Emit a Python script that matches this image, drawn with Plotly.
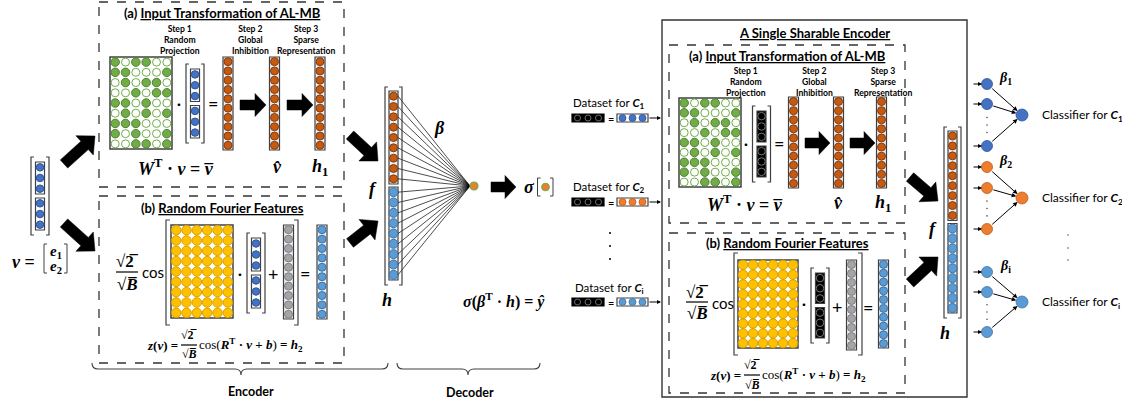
import plotly.graph_objects as go

W, H = 1122, 405

# ---------------- data ----------------
GREEN_PATTERN = ["101100", "110001", "010110", "001011", "110100",
                 "010101", "111000", "101001", "001101"]
FOURIER_ROWS, FOURIER_COLS = 9, 6
STEP_CIRCLES = 10
F_ORANGE, F_BLUE = 9, 9
HALF_INPUT = 3
STEP_LABELS = ["Step 1<br>Random<br>Projection",
               "Step 2<br>Global<br>Inhibition",
               "Step 3<br>Sparse<br>Representation"]
TASK_SUBS = ["1", "2", "i"]
TASK_COLORS = ["#4472C4", "#ED7D31", "#5B9BD5"]
TASK_EDGES = ["#2F5597", "#C55A11", "#41719C"]
IN_YS = [[84, 104, 146], [167, 188, 229], [272, 292, 332]]
OUT_YS = [115, 198, 302]

GREEN, GREEN_E = "#70AD47", "#507E32"
ORANGE, ORANGE_E = "#C55A11", "#843C0C"
BLUE, BLUE_E = "#4472C4", "#2F5597"
LBLUE, LBLUE_E = "#5B9BD5", "#41719C"
YELLOW, YELLOW_E = "#FFC000", "#D6A000"
GRAY, GRAY_E = "#A5A5A5", "#7F7F7F"
DARK = "#404040"
SANS = "Lato"
SERIF = "Liberation Serif"

fig = go.Figure()
shapes, annots = [], []


def circles(xs, ys, fill, edge, size, lw=1.0):
    fig.add_trace(go.Scatter(x=xs, y=ys, mode="markers", hoverinfo="skip", showlegend=False,
                             marker=dict(size=size, color=fill, line=dict(color=edge, width=lw))))


def rect(x0, y0, x1, y1, color=DARK, width=1.2, dash="solid", fill="rgba(0,0,0,0)", layer="below"):
    shapes.append(dict(type="rect", x0=x0, y0=y0, x1=x1, y1=y1, layer=layer,
                       line=dict(color=color, width=width, dash=dash), fillcolor=fill))


def path(d, color=DARK, width=1.2, fill=None, layer="above"):
    s = dict(type="path", path=d, layer=layer, line=dict(color=color, width=width))
    if fill:
        s["fillcolor"] = fill
    shapes.append(s)


def line(x0, y0, x1, y1, width=1.2, color="black"):
    shapes.append(dict(type="line", x0=x0, x1=x1, y0=y0, y1=y1, line=dict(color=color, width=width)))


def text(x, y, s, size, family=SANS, color="black", xanchor="center"):
    annots.append(dict(x=x, y=y, text=s, showarrow=False, xanchor=xanchor, yanchor="middle",
                       font=dict(family=family, size=size, color=color)))


def arrow(x0, y0, x1, y1, width=1.0, standoff=0, startstandoff=0, head=2, hsize=1.0):
    annots.append(dict(x=x1, y=y1, ax=x0, ay=y0, xref="x", yref="y", axref="x", ayref="y",
                       text="", showarrow=True, arrowhead=head, arrowsize=hsize, arrowwidth=width,
                       arrowcolor="black", standoff=standoff, startstandoff=startstandoff))


def block_arrow(x0, y0, x1, y1, sw=10, hw=23, hl=11):
    L = ((x1 - x0) ** 2 + (y1 - y0) ** 2) ** 0.5
    dx, dy = (x1 - x0) / L, (y1 - y0) / L
    nx, ny = -dy, dx
    bx, by = x1 - dx * hl, y1 - dy * hl
    pts = [(x0 + nx * sw / 2, y0 + ny * sw / 2), (bx + nx * sw / 2, by + ny * sw / 2),
           (bx + nx * hw / 2, by + ny * hw / 2), (x1, y1),
           (bx - nx * hw / 2, by - ny * hw / 2), (bx - nx * sw / 2, by - ny * sw / 2),
           (x0 - nx * sw / 2, y0 - ny * sw / 2)]
    d = "M " + " L ".join(f"{px:.1f},{py:.1f}" for px, py in pts) + " Z"
    path(d, color="black", width=0.5, fill="black")


def bracket(x0, x1, y0, y1, serif=3, width=1.2):
    path(f"M {x0+serif},{y0} L {x0},{y0} L {x0},{y1} L {x0+serif},{y1}", width=width)
    path(f"M {x1-serif},{y0} L {x1},{y0} L {x1},{y1} L {x1-serif},{y1}", width=width)


def brace(x0, x1, xt, y, depth=6, tip=6):
    path(f"M {x0},{y-depth} Q {x0},{y} {x0+6},{y} L {xt-6},{y} Q {xt},{y} {xt},{y+tip} "
         f"Q {xt},{y} {xt+6},{y} L {x1-6},{y} Q {x1},{y} {x1},{y-depth}", width=1.1)


def column(cx, y0, y1, n, fill, edge, w=10, d=8):
    rect(cx - w / 2, y0, cx + w / 2, y1, color=DARK, width=1.2, fill="#EAF0FA")
    step = (y1 - y0) / n
    ys = [y0 + step / 2 + k * step for k in range(n)]
    circles([cx] * n, ys, fill, edge, d)
    return ys


def input_vector(cx, y0, y1, fill, edge, boxfill="white"):
    bracket(cx - 9, cx + 9, y0, y1)
    mid = (y0 + y1) / 2
    for a, b in ((y0 + 5, mid - 2), (mid + 2, y1 - 5)):
        rect(cx - 4.5, a, cx + 4.5, b, color=DARK, width=1.2, fill=boxfill)
        h = (b - a) / HALF_INPUT
        circles([cx] * HALF_INPUT, [a + h / 2 + k * h for k in range(HALF_INPUT)], fill, edge, 7.5)


def f_vector(cx, y0, y1):
    bracket(cx - 8.5, cx + 8.5, y0, y1)
    mid = (y0 + y1) / 2
    a1, b1, a2, b2 = y0 + 4, mid - 2, mid + 1, y1 - 5
    rect(cx - 4.5, a1, cx + 4.5, b1, fill="#EAF0FA")
    rect(cx - 4.5, a2, cx + 4.5, b2, fill="#EAF0FA")
    s1, s2 = (b1 - a1) / F_ORANGE, (b2 - a2) / F_BLUE
    ys1 = [a1 + s1 / 2 + k * s1 for k in range(F_ORANGE)]
    ys2 = [a2 + s2 / 2 + k * s2 for k in range(F_BLUE)]
    circles([cx] * F_ORANGE, ys1, ORANGE, ORANGE_E, 8)
    circles([cx] * F_BLUE, ys2, LBLUE, LBLUE_E, 9)
    return ys1 + ys2


def green_matrix(x0, y0, x1, y1):
    rect(x0, y0, x1, y1, color=DARK, width=1.5, fill="white")
    nr, nc = len(GREEN_PATTERN), len(GREEN_PATTERN[0])
    sx, sy = (x1 - x0) / nc, (y1 - y0) / nr
    fx, fy, ox, oy = [], [], [], []
    for r, row in enumerate(GREEN_PATTERN):
        for c, v in enumerate(row):
            px, py = x0 + sx / 2 + c * sx, y0 + sy / 2 + r * sy
            (fx if v == "1" else ox).append(px)
            (fy if v == "1" else oy).append(py)
    circles(fx, fy, GREEN, GREEN_E, 8.5)
    circles(ox, oy, "white", GREEN, 8, lw=1.0)


def yellow_matrix(x0, y0, x1, y1):
    rect(x0, y0, x1, y1, color=DARK, width=1.5, fill="white")
    sx, sy = (x1 - x0) / FOURIER_COLS, (y1 - y0) / FOURIER_ROWS
    xs, ys = [], []
    for r in range(FOURIER_ROWS):
        for c in range(FOURIER_COLS):
            xs.append(x0 + sx / 2 + c * sx)
            ys.append(y0 + sy / 2 + r * sy)
    circles(xs, ys, YELLOW, YELLOW_E, 9.5)


def fraction(cx, ytop, yline, ybot, size, half=11):
    text(cx, ytop, "<b>√2\u0305</b>", size, SERIF)
    line(cx - half, yline, cx + half, yline)
    text(cx, ybot, "<b>√<i>B\u0305</i></b>", size, SERIF)


STEP_FONT = 8.6

# ---------------- left: encoder ----------------
rect(99, 2, 344, 187, color="#333333", width=1.3, dash="dash")
text(222, 13, "<b>(a) <u>Input Transformation of AL-MB</u></b>", 13)
for sx, lab in zip([180, 250, 306], STEP_LABELS):
    text(sx, 40, "<b>" + lab + "</b>", STEP_FONT)
green_matrix(110, 57, 172, 149)
input_vector(195, 64, 143, BLUE, BLUE_E)
text(179, 103, "<b>·</b>", 14)
text(213, 103, "=", 18)
for cx in (228, 274.5, 320):
    column(cx, 57, 150, STEP_CIRCLES, ORANGE, ORANGE_E)
block_arrow(240, 105, 266, 105)
block_arrow(287, 105, 313, 105)
text(176, 167, "<b><i>W</i></b><sup><b>T</b></sup><b> · <i>v</i> = <i>v\u0305</i></b>", 18, SERIF)
text(277, 167, "<b><i>v\u0302</i></b>", 18, SERIF)
text(320, 167, "<b><i>h</i><sub>1</sub></b>", 18, SERIF)

input_vector(40, 157, 235, BLUE, BLUE_E)
text(23, 262, "<b><i>v</i> =</b>", 18, SERIF)
bracket(44, 67, 244, 273, serif=3, width=1.0)
text(55.5, 252, "<b><i>e</i><sub>1</sub></b>", 15, SERIF)
text(55.5, 267, "<b><i>e</i><sub>2</sub></b>", 15, SERIF)
block_arrow(64, 164, 95, 136, sw=11, hw=26, hl=14)
block_arrow(64, 223, 95, 251, sw=11, hw=26, hl=14)

rect(99, 196, 344, 363, color="#333333", width=1.3, dash="dash")
text(222, 208, "<b>(b) <u>Random Fourier Features</u></b>", 13)
fraction(127, 261, 272, 284, 17)
text(153, 272, "cos", 15)
bracket(166, 298, 220, 325, serif=4)
yellow_matrix(171, 225, 233, 318)
text(240, 273, "<b>·</b>", 14)
input_vector(256, 233, 313, BLUE, BLUE_E)
text(273, 274, "+", 18)
column(288.5, 225, 319, STEP_CIRCLES, GRAY, GRAY_E)
text(305, 273, "=", 18)
column(322, 225, 319, STEP_CIRCLES, LBLUE, LBLUE_E)
text(180, 345, "<b><i>z</i>(<i>v</i>) =</b>", 13, SERIF, xanchor="right")
fraction(189, 335, 345, 354, 12, half=8)
text(197, 345, "cos(<b><i>R</i></b><sup><b>T</b></sup><b> · <i>v</i> + <i>b</i></b>) <b>= <i>h</i><sub>2</sub></b>", 13, SERIF, xanchor="left")

brace(92, 388, 241, 369)
text(251, 391, "<b>Encoder</b>", 12.5)

# ---------------- middle: decoder ----------------
block_arrow(350, 135, 378, 161, sw=11, hw=26, hl=14)
block_arrow(350, 243, 378, 221, sw=11, hw=26, hl=14)
fys = f_vector(393.5, 87, 285)
node_x, node_y = 474, 186
lx, ly = [], []
for y in fys:
    lx += [398, node_x - 4, None]
    ly += [y, node_y, None]
fig.add_trace(go.Scatter(x=lx, y=ly, mode="lines", line=dict(color="black", width=0.7),
                         hoverinfo="skip", showlegend=False))
circles([node_x], [node_y], "#ED7D31", GREEN, 8, lw=1.2)
text(373, 189, "<b><i>f</i></b>", 18, SERIF)
text(387, 300, "<b><i>h</i></b>", 18, SERIF)
text(439, 128, "<b><i>β</i></b>", 18, SERIF)
block_arrow(491, 187, 516, 187)
text(529, 187, "<b><i>σ</i></b>", 18, SERIF)
bracket(537.5, 553, 178, 196, serif=3, width=1.0)
circles([545.5], [187], "#ED7D31", GREEN, 7.5, lw=1.2)
text(504, 300, "<b><i>σ</i>(<i>β</i></b><sup><b>T</b></sup><b> · <i>h</i>) = <i>ŷ</i></b>", 16, SERIF)
brace(397, 540, 468, 369)
text(470, 392, "<b>Decoder</b>", 12.5)

# ---------------- right: datasets ----------------
for k, (lab_y, bar_y) in enumerate(zip([103, 187, 288], [118, 202, 302])):
    text(609, lab_y, f"Dataset for <b><i>C</i><sub>{TASK_SUBS[k]}</sub></b>", 11.5, SANS)
    rect(572, bar_y - 4, 604, bar_y + 4, color="black", width=1.2, fill="black")
    rect(617, bar_y - 4, 648, bar_y + 4, color=DARK, width=1.2, fill="white")
    circles([577.5, 588, 598.5], [bar_y] * 3, "black", "#888888", 6, lw=0.8)
    circles([622.5, 632.5, 642.5], [bar_y] * 3, TASK_COLORS[k], TASK_EDGES[k], 7, lw=0.8)
    text(610.5, bar_y, "=", 11)
    arrow(648, bar_y, 661, bar_y, width=1, hsize=0.8)
circles([610, 610, 610], [233, 246, 259], "black", "black", 2, lw=0)

# ---------------- right: single sharable encoder ----------------
rect(662, 20, 967, 397, color="#333333", width=1.4)
text(814, 33, "<b><u>A Single Sharable Encoder</u></b>", 13)
rect(669, 45, 905, 223, color="#333333", width=1.3, dash="dash")
text(787, 56, "<b>(a) <u>Input Transformation of AL-MB</u></b>", 13)
for sx, lab in zip([746, 814, 883], STEP_LABELS):
    text(sx, 82, "<b>" + lab + "</b>", STEP_FONT)
green_matrix(679, 98, 741, 187)
input_vector(761.5, 106, 182, "black", "#777777", boxfill="black")
text(746, 143, "<b>·</b>", 14)
text(779, 143, "=", 18)
for cx in (793.5, 838.5, 881.5):
    column(cx, 97, 188, STEP_CIRCLES, ORANGE, ORANGE_E)
block_arrow(805, 143, 830, 143)
block_arrow(850, 143, 875, 143)
text(745, 203, "<b><i>W</i></b><sup><b>T</b></sup><b> · <i>v</i> = <i>v\u0305</i></b>", 18, SERIF)
text(838, 203, "<b><i>v\u0302</i></b>", 18, SERIF)
text(883, 203, "<b><i>h</i><sub>1</sub></b>", 18, SERIF)

rect(669, 233, 905, 393, color="#333333", width=1.3, dash="dash")
text(787, 243, "<b>(b) <u>Random Fourier Features</u></b>", 13)
fraction(697, 292, 302, 313, 17)
text(723, 303, "cos", 15)
bracket(734, 862, 253, 355, serif=4)
yellow_matrix(738, 260, 798, 348)
text(804, 303, "<b>·</b>", 14)
input_vector(820, 268, 343, "black", "#777777", boxfill="black")
text(837, 307, "+", 18)
column(851.5, 260, 350, STEP_CIRCLES, GRAY, GRAY_E)
text(868, 307, "=", 18)
column(883.5, 260, 348, STEP_CIRCLES, LBLUE, LBLUE_E)
text(743, 375, "<b><i>z</i>(<i>v</i>) =</b>", 13, SERIF, xanchor="right")
fraction(752, 365, 375, 385, 12, half=8)
text(760, 375, "cos(<b><i>R</i></b><sup><b>T</b></sup><b> · <i>v</i> + <i>b</i></b>) <b>= <i>h</i><sub>2</sub></b>", 13, SERIF, xanchor="left")

block_arrow(910, 177, 938, 201, sw=11, hw=26, hl=14)
block_arrow(910, 283, 938, 257, sw=11, hw=26, hl=14)
f_vector(952.5, 127, 318)
text(933, 229, "<b><i>f</i></b>", 18, SERIF)
text(945, 333, "<b><i>h</i></b>", 18, SERIF)

# ---------------- classifiers ----------------
for k in range(3):
    for y in IN_YS[k]:
        arrow(972, y, 982, y, width=1, hsize=0.8)
        arrow(987, y, 1022, OUT_YS[k], width=1, standoff=6, startstandoff=5, hsize=0.9)
    circles([987] * 3, IN_YS[k], TASK_COLORS[k], TASK_EDGES[k], 11, lw=0.8)
    circles([1022], [OUT_YS[k]], TASK_COLORS[k], TASK_EDGES[k], 12, lw=0.8)
    a, b = IN_YS[k][1], IN_YS[k][2]
    circles([987] * 3, [a + (b - a) * t for t in (0.32, 0.5, 0.68)], "#555555", "#555555", 1.6, lw=0)
    text(1005, IN_YS[k][0] - 6, f"<b><i>β</i><sub>{TASK_SUBS[k]}</sub></b>", 14, SERIF)
    text(1040, OUT_YS[k], f"Classifier for <b><i>C</i><sub>{TASK_SUBS[k]}</sub></b>", 12, SANS, xanchor="left")
circles([1068] * 3, [235, 248, 260], "#555555", "#555555", 1.6, lw=0)

fig.update_layout(
    width=W, height=H, margin=dict(l=0, r=0, t=0, b=0),
    paper_bgcolor="white", plot_bgcolor="white",
    xaxis=dict(range=[0, W], visible=False, fixedrange=True),
    yaxis=dict(range=[H, 0], visible=False, fixedrange=True),
    shapes=shapes, annotations=annots, showlegend=False,
)
fig.write_html("out.html", config={"displayModeBar": False},
               post_script="document.body.style.margin='0';document.body.style.overflow='hidden';")
